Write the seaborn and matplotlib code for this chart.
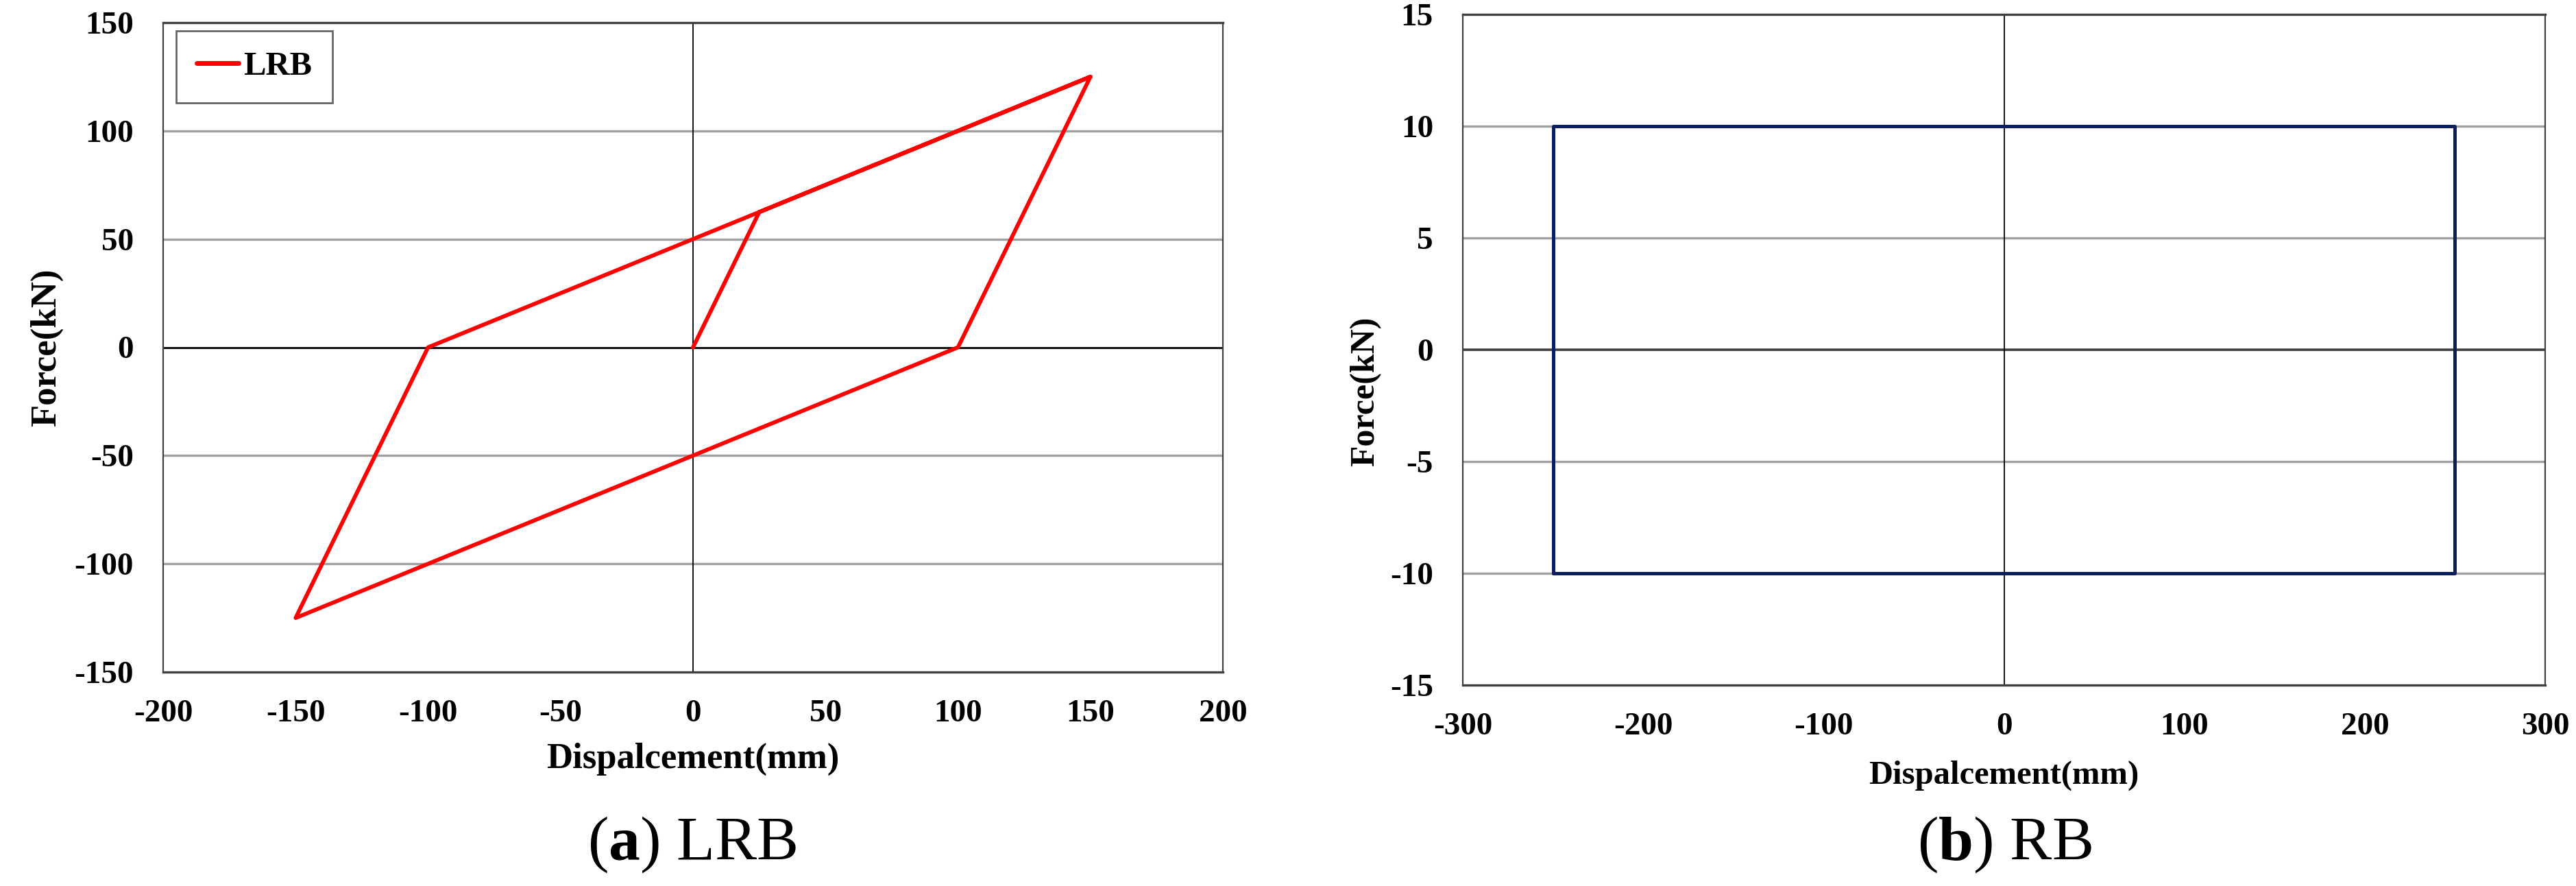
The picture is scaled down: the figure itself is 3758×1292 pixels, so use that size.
#!/usr/bin/env python3
"""Force-displacement hysteresis models of the LRB and RB isolators."""

import pandas as pd
import matplotlib
matplotlib.use('Agg')
import matplotlib.pyplot as plt
import seaborn as sns

# LRB bilinear loop (load path, in drawing order)
lrb_disp = [0, 25, 150, 100, -150, -100, 150]
lrb_force = [0, 62.5, 125, 0, -125, 0, 125]

# RB rectangular loop
rb_disp = [-250, -250, 250, 250, -250]
rb_force = [-10, 10, 10, -10, -10]

lrb_xticks = [-200, -150, -100, -50, 0, 50, 100, 150, 200]
lrb_yticks = [-150, -100, -50, 0, 50, 100, 150]
rb_xticks = [-300, -200, -100, 0, 100, 200, 300]
rb_yticks = [-15, -10, -5, 0, 5, 10, 15]

sns.set_theme(style='white')
plt.rcParams['font.family'] = ['Liberation Serif', 'DejaVu Serif']
plt.rcParams['axes.unicode_minus'] = False
plt.rcParams['mathtext.fontset'] = 'custom'
plt.rcParams['mathtext.rm'] = 'Liberation Serif'
plt.rcParams['mathtext.bf'] = 'Liberation Serif:bold'
for key in ('text.color', 'axes.labelcolor', 'xtick.color', 'ytick.color'):
    plt.rcParams[key] = 'black'

W, H = 3758, 1292
fig = plt.figure(figsize=(W / 100, H / 100), dpi=100)


def px_axes(x0, y0, x1, y1):
    return fig.add_axes([x0 / W, 1 - y1 / H, (x1 - x0) / W, (y1 - y0) / H])


def style_axes(ax, xticks, yticks, zero_color, zero_lw):
    ax.set_xlim(xticks[0], xticks[-1])
    ax.set_ylim(yticks[0], yticks[-1])
    ax.set_xticks(xticks)
    ax.set_yticks(yticks)
    for y in yticks[1:-1]:
        if y != 0:
            ax.axhline(y, color='#a0a0a0', lw=2.4, zorder=0.5)
    ax.axhline(0, color=zero_color, lw=zero_lw, zorder=1)
    ax.axvline(0, color='black', lw=1.3, zorder=1)
    ax.tick_params(axis='both', length=0, labelsize=34)
    ax.tick_params(axis='x', pad=29)
    ax.tick_params(axis='y', pad=31)
    for lab in ax.get_xticklabels() + ax.get_yticklabels():
        lab.set_fontweight('bold')
    for side, sp in ax.spines.items():
        sp.set_color('#404040')
        sp.set_linewidth(2.4 if side in ('top', 'bottom') else 1.6)


# (a) LRB
ax1 = px_axes(238, 33, 1784, 980)
df_lrb = pd.DataFrame({'disp': lrb_disp, 'force': lrb_force, 'model': 'LRB'})
sns.lineplot(data=df_lrb, x='disp', y='force', hue='model', palette=['#ff0000'],
             sort=False, estimator=None, lw=4.2, ax=ax1, zorder=3)
style_axes(ax1, lrb_xticks, lrb_yticks, 'black', 2.0)
ax1.set_xlabel('Dispalcement(mm)', fontsize=38, fontweight='bold')
ax1.set_ylabel('Force(kN)', fontsize=38, fontweight='bold')
ax1.xaxis.set_label_coords(0.5, -0.134)
ax1.xaxis.label.set_va('center')
ax1.yaxis.set_label_coords(-0.110, 0.5)
ax1.yaxis.label.set_va('center')
leg = ax1.legend(loc='upper left', bbox_to_anchor=(0.0123, 0.987), borderaxespad=0,
                 prop={'weight': 'bold', 'size': 35},
                 fancybox=False, frameon=True, handlelength=1.25,
                 handletextpad=0.15, borderpad=0.62)
leg.get_frame().set_edgecolor('#404040')
leg.get_frame().set_linewidth(2.0)
for line in leg.get_lines():
    line.set_linewidth(5.0)

# (b) RB
ax2 = px_axes(2134, 21, 3713, 999)
df_rb = pd.DataFrame({'disp': rb_disp, 'force': rb_force})
sns.lineplot(data=df_rb, x='disp', y='force', color='#0b1f5e',
             sort=False, estimator=None, lw=3.6, ax=ax2, zorder=3)
style_axes(ax2, rb_xticks, rb_yticks, '#404040', 2.6)
ax2.set_xlabel('Dispalcement(mm)', fontsize=35, fontweight='bold')
ax2.set_ylabel('Force(kN)', fontsize=36, fontweight='bold')
ax2.xaxis.set_label_coords(0.5, -0.135)
ax2.xaxis.label.set_va('center')
ax2.yaxis.set_label_coords(-0.090, 0.4376)
ax2.yaxis.label.set_va('center')

fig.text(1010 / W, 1 - 1232 / H, r'($\mathbf{a}$) LRB', fontsize=66,
         ha='center', va='center')
fig.text(2924 / W, 1 - 1232 / H, r'($\mathbf{b}$) RB', fontsize=66,
         ha='center', va='center')

fig.savefig('out.png', dpi=100, facecolor='white')
plt.close(fig)
